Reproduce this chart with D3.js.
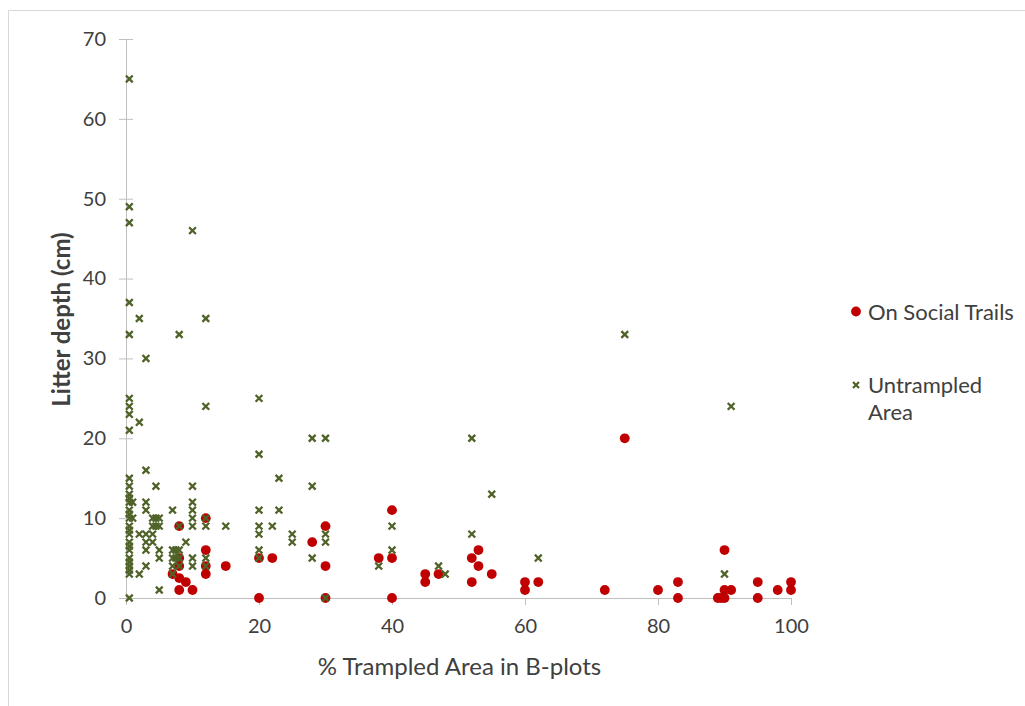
<!DOCTYPE html>
<html>
<head>
<meta charset="utf-8">
<script src="https://cdn.jsdelivr.net/npm/d3@7"></script>
<style>
  html, body { margin: 0; padding: 0; background: #fff; }
  svg { display: block; }
  text { font-family: Lato, "Open Sans", sans-serif; fill: #404040; }
</style>
</head>
<body>
<svg id="chart" width="1025" height="706"></svg>
<script>
// Litter depth vs. % trampled area: two observation groups
const seriesNames = ["On Social Trails", "Untrampled Area"];

// On Social Trails: % trampled area (x) and litter depth in cm (y)
const trailX = [7, 8, 9, 8, 10, 8, 8, 8, 12, 12, 12, 12, 15, 20, 20, 22, 28, 30, 30, 30,
  38, 40, 40, 40, 45, 45, 47, 52, 53, 53, 55, 52, 60, 60, 62, 72, 75, 80, 83, 83,
  89, 89.5, 90, 90, 91, 90, 95, 95, 98, 100, 100];
const trailY = [3, 2.5, 2, 1, 1, 9, 5, 4, 10, 6, 4, 3, 4, 0, 5, 5, 7, 9, 4, 0,
  5, 11, 5, 0, 3, 2, 3, 5, 6, 4, 3, 2, 2, 1, 2, 1, 20, 1, 2, 0,
  0, 0, 0, 1, 1, 6, 2, 0, 1, 2, 1];

// Untrampled Area: % trampled area (x) and litter depth in cm (y)
const openX = [
  0.5, 0.5, 0.5, 0.5, 0.5, 0.5, 0.5, 0.5, 0.5,
  0.5, 0.5, 0.5, 0.5, 0.5, 0.5, 0.5, 0.5, 0.5, 0.5, 0.5, 0.5, 0.5, 0.5, 0.5, 0.5, 0.5, 0.5, 0.5, 0.5,
  1, 1,
  2, 2, 2, 2,
  3, 3, 3, 3, 3, 3, 3, 3,
  4, 4, 4, 4,
  4.5, 4.5, 4.5,
  5, 5, 5, 5, 5,
  7, 7, 7, 7, 7,
  7.5, 7.5,
  8, 8, 8, 8, 8,
  9,
  10, 10, 10, 10, 10, 10, 10, 10,
  12, 12, 12, 12, 12, 12,
  15,
  20, 20, 20, 20, 20, 20, 20,
  22, 23, 23, 25, 25,
  28, 28, 28,
  30, 30, 30, 30,
  38, 40, 40, 47, 48, 52, 52, 55, 62, 75, 90, 91];
const openY = [
  65, 49, 47, 37, 33, 25, 24, 23, 21,
  15, 14, 13, 12.5, 12, 11, 10.5, 10, 9, 8.5, 8, 7, 6.5, 6, 5, 4.5, 4, 3.5, 3, 0,
  12, 10,
  35, 22, 8, 3,
  30, 16, 12, 11, 8, 7, 6, 4,
  10, 9, 8, 7,
  14, 10, 9,
  10, 9, 6, 5, 1,
  11, 6, 5, 4, 3,
  6, 5,
  33, 9, 6, 5, 4,
  7,
  46, 14, 12, 11, 10, 9, 5, 4,
  35, 24, 10, 9, 5, 4,
  9,
  25, 18, 11, 9, 8, 6, 5,
  9, 15, 11, 8, 7,
  20, 14, 5,
  20, 8, 7, 0,
  4, 9, 6, 4, 3, 20, 8, 13, 5, 33, 3, 24];

const xTicks = [0, 20, 40, 60, 80, 100];
const yTicks = [0, 10, 20, 30, 40, 50, 60, 70];

const trailColor = "#c00000";
const openColor = "#4f6228";
const axisColor = "#bfbfbf";

const svg = d3.select("#chart");

// outer chart frame
svg.append("path")
  .attr("d", "M8.5,706 V10.5 H1025")
  .attr("fill", "none")
  .attr("stroke", "#d9d9d9")
  .attr("stroke-width", 1);

const x = d3.scaleLinear().domain([0, 100]).range([126, 791]);
const y = d3.scaleLinear().domain([0, 70]).range([598, 39]);

// y axis with ticks crossing the axis line
const yAxis = svg.append("g")
  .attr("transform", `translate(${x(0)},0)`)
  .call(d3.axisLeft(y).tickValues(yTicks).tickSize(7).tickPadding(13));
yAxis.select(".domain").attr("stroke", axisColor);
yAxis.selectAll(".tick line").attr("stroke", axisColor).attr("x1", 7);
yAxis.selectAll(".tick text")
  .style("font-size", "20px").style("font-family", "Lato, sans-serif").attr("fill", "#404040");

// x axis with outside ticks
const xAxis = svg.append("g")
  .attr("transform", `translate(0,${y(0)})`)
  .call(d3.axisBottom(x).tickValues(xTicks).tickSizeOuter(0).tickSize(7).tickPadding(14));
xAxis.select(".domain").attr("stroke", axisColor);
xAxis.selectAll(".tick line").attr("stroke", axisColor);
xAxis.selectAll(".tick text")
  .style("font-size", "20px").style("font-family", "Lato, sans-serif").attr("fill", "#404040");

// axis titles
svg.append("text")
  .attr("x", (x(0) + x(100)) / 2 + 1).attr("y", 675)
  .attr("text-anchor", "middle")
  .style("font-size", "24px")
  .text("% Trampled Area in B-plots");

svg.append("text")
  .attr("transform", `translate(70,${(y(0) + y(70)) / 2 + 1}) rotate(-90)`)
  .attr("text-anchor", "middle")
  .style("font-size", "24px")
  .style("font-weight", "bold")
  .text("Litter depth (cm)");

// trail points (drawn first, beneath the crosses)
const trailData = trailX.map((v, i) => ({ x: v, y: trailY[i] }));
svg.append("g").selectAll("circle")
  .data(trailData)
  .join("circle")
  .attr("cx", d => x(d.x))
  .attr("cy", d => y(d.y))
  .attr("r", 4.9)
  .attr("fill", trailColor);

// untrampled points as x markers
const xMark = (cx, cy, s) => `M${cx - s},${cy - s}L${cx + s},${cy + s}M${cx - s},${cy + s}L${cx + s},${cy - s}`;
const openData = openX.map((v, i) => ({ x: v, y: openY[i] }));
svg.append("g").selectAll("path")
  .data(openData)
  .join("path")
  .attr("d", d => xMark(x(d.x), y(d.y), 3.4))
  .attr("stroke", openColor)
  .attr("stroke-width", 2.3)
  .attr("fill", "none");

// legend
const legend = svg.append("g");
legend.append("circle")
  .attr("cx", 856).attr("cy", 311.5).attr("r", 4.9).attr("fill", trailColor);
legend.append("text")
  .attr("x", 868).attr("y", 319.5)
  .style("font-size", "22px")
  .text(seriesNames[0]);
legend.append("path")
  .attr("d", xMark(856, 385, 3))
  .attr("stroke", openColor).attr("stroke-width", 2.2).attr("fill", "none");
const lt = legend.append("text")
  .attr("x", 868).attr("y", 393)
  .style("font-size", "22px");
lt.append("tspan").attr("x", 868).text("Untrampled");
lt.append("tspan").attr("x", 868).attr("dy", 27).text("Area");
</script>
</body>
</html>
